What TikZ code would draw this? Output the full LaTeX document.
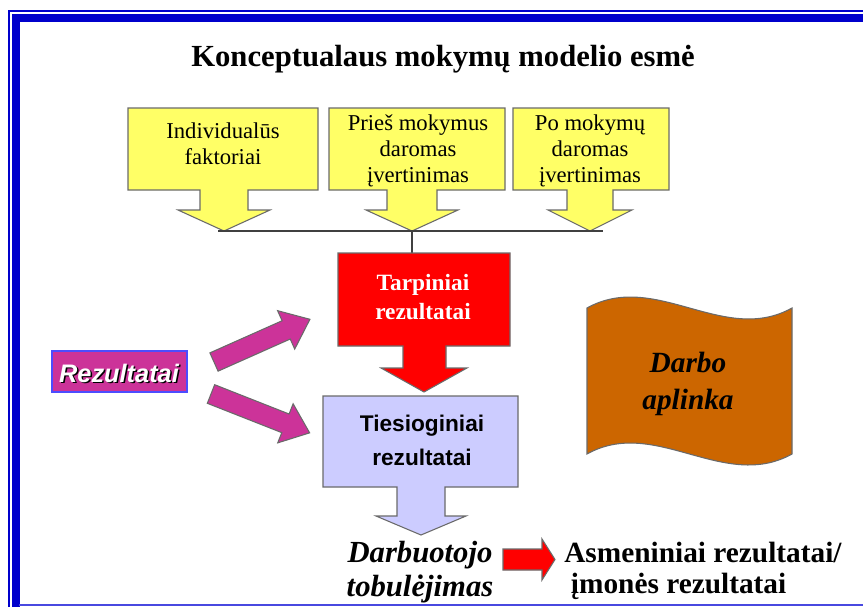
\documentclass[tikz,border=0pt]{standalone}
\usepackage{fontspec}
\setmainfont{Liberation Serif}
\setsansfont{Liberation Sans}
\usetikzlibrary{calc}
\definecolor{frameblue}{HTML}{0000CC}
\definecolor{framelight}{HTML}{4848E0}
\definecolor{cyellow}{HTML}{FFFF66}
\definecolor{cred}{HTML}{FF0000}
\definecolor{clav}{HTML}{CCCCFF}
\definecolor{cmag}{HTML}{CC3399}
\definecolor{cbrown}{HTML}{CC6600}
\definecolor{edgegray}{HTML}{6A6A6A}
\newcommand\blockarr[4]{%
  \path[#4, shift={#1}, rotate=#2] (0,-10) -- ({#3-26},-10) -- ({#3-26},-21) -- (#3,0)
     -- ({#3-26},21) -- ({#3-26},10) -- (0,10) -- cycle;}
\begin{document}
\begin{tikzpicture}[x=0.75pt,y=-0.75pt,
  shapeedge/.style={draw=edgegray, line width=0.8pt, line join=miter},
  ytext/.style={align=center, font=\fontsize{17}{19.5}\selectfont, inner sep=0pt},
  conn/.style={draw=black!75, line width=0.8pt}]
\useasboundingbox (0,0) rectangle (863,607);
\fill[white] (0,0) rectangle (863,607);
% frame
\draw[frameblue, line width=1.6pt] (9,607) -- (9,11) -- (863,11);
\draw[frameblue, line width=6pt] (15.5,607) -- (15.5,18) -- (863,18);
\draw[framelight, line width=1.8pt] (19,605) -- (863,605);

% yellow callouts
\path[fill=cyellow, shapeedge] (128,108) -- (318,108) -- (318,190) -- (248,190) -- (248,210) -- (270,210)
   -- (224,231) -- (178,210) -- (200,210) -- (200,190) -- (128,190) -- cycle;
\path[fill=cyellow, shapeedge] (329,108) -- (505,108) -- (505,190) -- (437,190) -- (437,210) -- (458,210)
   -- (412,231) -- (366,210) -- (387,210) -- (387,190) -- (329,190) -- cycle;
\path[fill=cyellow, shapeedge] (513,108) -- (669,108) -- (669,190) -- (613,190) -- (613,210) -- (632,210)
   -- (590,231) -- (548,210) -- (567,210) -- (567,190) -- (513,190) -- cycle;

% connectors
\coordinate (hl) at (218,231);
\coordinate (hr) at (603,231);
\coordinate (j) at (412,231);
\coordinate (rtop) at (412,253);
\draw[conn] (hl) -- (hr);
\draw[conn] (j) -- (rtop);

% red callout
\path[fill=cred, shapeedge] (338,253) -- (510,253) -- (510,346) -- (446,346) -- (446,368) -- (467,368)
   -- (424,392) -- (381,368) -- (403,368) -- (403,346) -- (338,346) -- cycle;
% lavender callout
\path[fill=clav, shapeedge] (323,396) -- (518,396) -- (518,487) -- (445,487) -- (445,516) -- (466,516)
   -- (421,535) -- (376,516) -- (397,516) -- (397,487) -- (323,487) -- cycle;

% magenta arrows
\blockarr{(214,362)}{24}{105}{fill=cmag, shapeedge}
\blockarr{(211,394)}{-21.5}{106}{fill=cmag, shapeedge}

% Rezultatai box
\path[fill=cmag, draw=blue!70!white, line width=0.8pt] (52,351) rectangle (187,392);

% small red arrow
\path[fill=cred, shapeedge] (503,549) -- (542,549) -- (542,539) -- (555,559.5) -- (542,580) -- (542,570) -- (503,570) -- cycle;

% wave
\path[fill=cbrown, shapeedge] (587,308) .. controls (655.3,270) and (723.7,346) .. (792,308)
   -- (792,454) .. controls (723.7,492) and (655.3,416) .. (587,454) -- cycle;

% texts
\node[font=\bfseries\fontsize{23}{26}\selectfont, anchor=base] (title) at (443,66) {Konceptualaus mokymų modelio esmė};
\node[ytext] (t1) at (223,144) {Individualūs\\faktoriai};
\node[ytext] (t2) at (418,151) {Prieš mokymus\\daromas\\įvertinimas};
\node[ytext] (t3) at (590,151) {Po mokymų\\daromas\\įvertinimas};
\node[align=center, text=white, inner sep=0pt, font=\bfseries\fontsize{17.5}{22}\selectfont] (tarp) at (423,297) {Tarpiniai\\rezultatai};
\node[align=center, inner sep=0pt, font=\sffamily\bfseries\fontsize{17}{25.5}\selectfont] (ties) at (422,440) {Tiesioginiai\\rezultatai};
\node[inner sep=0pt, text=black, font=\sffamily\bfseries\itshape\fontsize{19}{22}\selectfont] (rezsh) at (120.5,374.5) {Rezultatai};
\node[inner sep=0pt, text=white, font=\sffamily\bfseries\itshape\fontsize{19}{22}\selectfont] (rez) at (119,373) {Rezultatai};
\node[align=center, inner sep=0pt, font=\bfseries\itshape\fontsize{22}{28}\selectfont] (darbo) at (688,384) {Darbo\\aplinka};
\node[align=center, inner sep=0pt, font=\bfseries\itshape\fontsize{23}{25.5}\selectfont] (tob) at (420,572) {Darbuotojo\\tobulėjimas};
\node[align=left, anchor=west, inner sep=0pt, font=\bfseries\fontsize{22}{23}\selectfont] (asm) at (564,571) {Asmeniniai rezultatai/\\\hspace{5pt}įmonės rezultatai};
\end{tikzpicture}
\end{document}
